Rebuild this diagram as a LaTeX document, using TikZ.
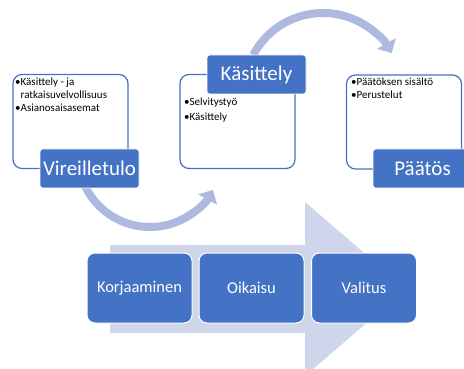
\documentclass[tikz,border=0pt]{standalone}
\usepackage{fontspec}
\setmainfont{Carlito}
\usetikzlibrary{arrows.meta}
\definecolor{ppblue}{HTML}{4472C4}
\definecolor{bendblue}{HTML}{ADB9DF}
\definecolor{paleblue}{HTML}{CFD5EA}
\tikzstyle{framebox}=[draw=ppblue,line width=1.2pt,fill=white,rounded corners=9pt,minimum width=115pt,minimum height=94pt,inner sep=0]
\tikzstyle{titlebox}=[fill=ppblue,draw=white,line width=0.6pt,rounded corners=3pt,minimum width=99pt,minimum height=39pt,text=white,font=\fontsize{21}{24}\selectfont,inner sep=0]
\tikzstyle{bullets}=[anchor=north west,align=left,inner sep=0,font=\fontsize{11}{13}\selectfont]
\tikzstyle{stagebox}=[fill=ppblue,draw=white,line width=1pt,rounded corners=8pt,minimum width=105pt,minimum height=70pt,text=white,font=\fontsize{16.5}{20}\selectfont,inner sep=0]
\tikzstyle{bendarrow}=[bendblue,line width=8pt,-{Triangle[length=11pt,width=21pt]}]

\begin{document}
\begin{tikzpicture}[x=1pt,y=1pt]
\useasboundingbox (0,0) rectangle (464,-369);
\clip (0,0) rectangle (464,-369);
% wide arrow behind the appeal steps
\fill[paleblue] (110,-245)--(305,-245)--(305,-202)--(406,-289)--(305,-376)--(305,-333)--(110,-333)--cycle;
% frames with bullet lists
\node[framebox] (f1) at (70.5,-121.5) {};
\node[framebox] (f2) at (237.5,-121.5) {};
\node[framebox] (f3) at (404,-122) {};
\node[bullets] (b1) at (15,-78) {•Käsittely - ja\\\phantom{•}ratkaisuvelvollisuus\\•Asianosaisasemat};
\node[bullets,font=\fontsize{11}{15}\selectfont] (b2) at (184,-98) {•Selvitystyö\\•Käsittely};
\node[bullets] (b3) at (351,-78) {•Päätöksen sisältö\\•Perustelut};
% bent arrows
\coordinate (c1) at (150,-155);
\coordinate (c2) at (323,-92);
\draw[bendarrow] ([shift={(205:72)}]c1) arc[start angle=205,end angle=331,radius=72];
\draw[bendarrow] ([shift={(152:79)}]c2) arc[start angle=152,end angle=29.5,radius=79];
% titles
\node[titlebox] (vir) at (89.5,-168.5) {Vireilletulo};
\node[titlebox] (kas) at (256.5,-74.5) {Käsittely};
\node[titlebox] (paa) at (422.5,-168.5) {Päätös};
% appeal steps
\node[stagebox] (kor) at (139.5,-288) {Korjaaminen};
\node[stagebox] (oik) at (251.5,-288) {Oikaisu};
\node[stagebox] (val) at (364,-288) {Valitus};
\end{tikzpicture}
\end{document}
